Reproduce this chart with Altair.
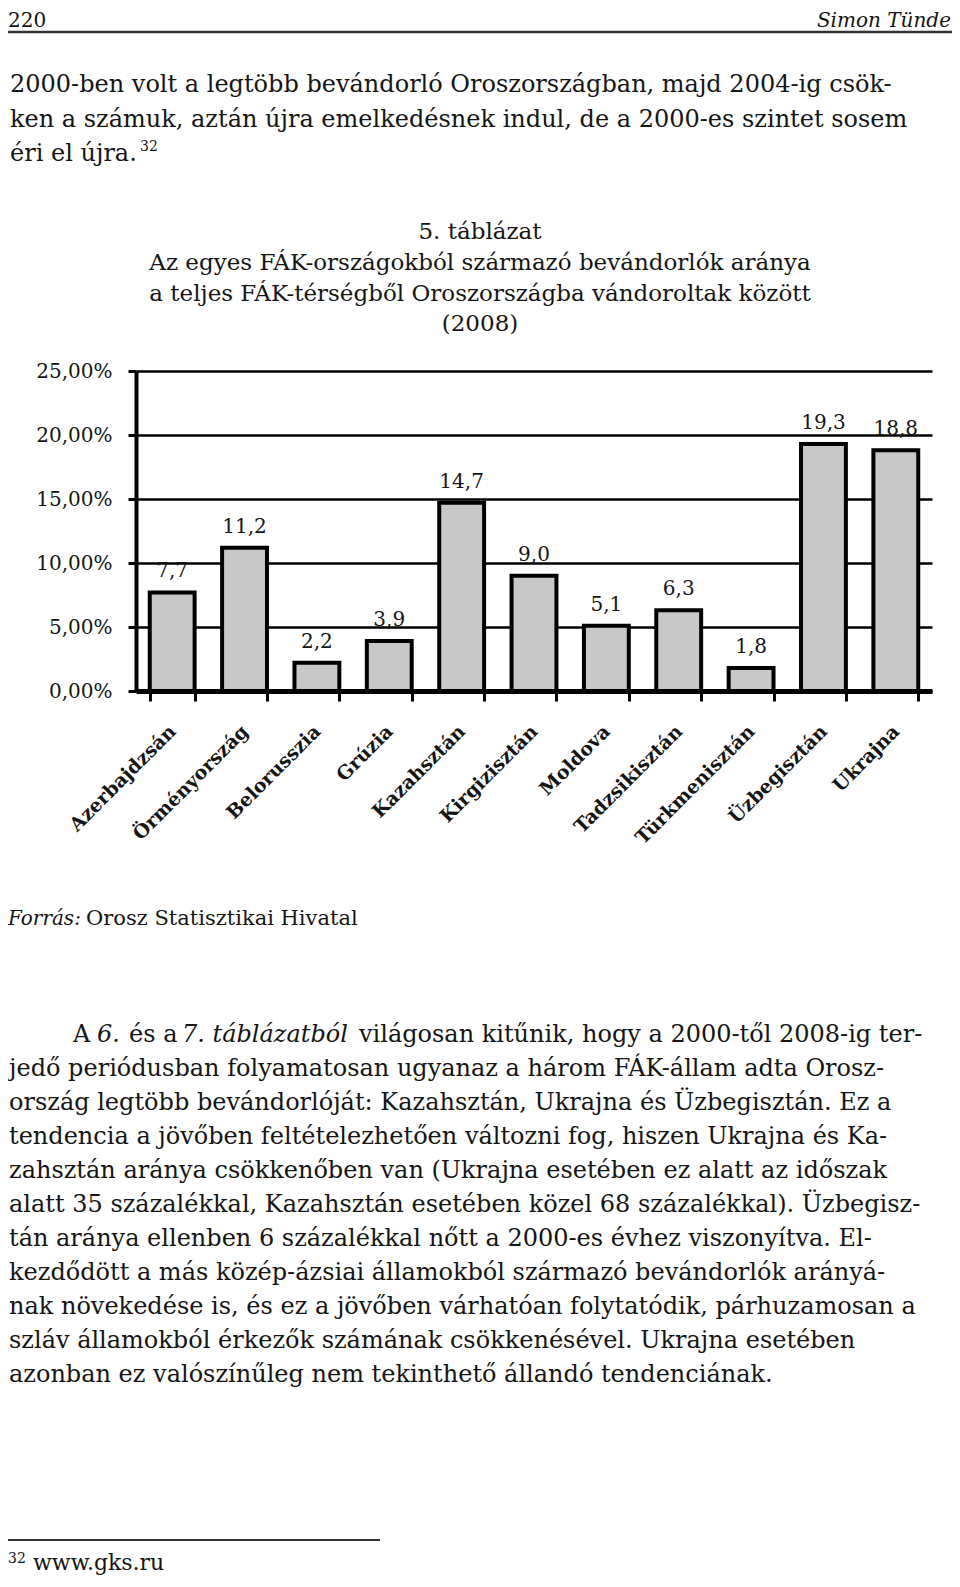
import altair as alt
import pandas as pd

# ---------------- data ----------------
countries = ["Azerbajdzsán", "Örményország", "Belorusszia", "Grúzia", "Kazahsztán",
             "Kirgizisztán", "Moldova", "Tadzsikisztán", "Türkmenisztán", "Üzbegisztán", "Ukrajna"]
shares = [7.7, 11.2, 2.2, 3.9, 14.7, 9.0, 5.1, 6.3, 1.8, 19.3, 18.8]
y_ticks = [0, 5, 10, 15, 20, 25]

header_left = "220"
header_right = "Simon Tünde"
intro_lines = [
    "2000-ben volt a legtöbb bevándorló Oroszországban, majd 2004-ig csök-",
    "ken a számuk, aztán újra emelkedésnek indul, de a 2000-es szintet sosem",
    "éri el újra.",
]
footnote_mark = "32"
title_lines = [
    "5. táblázat",
    "Az egyes FÁK-országokból származó bevándorlók aránya",
    "a teljes FÁK-térségből Oroszországba vándoroltak között",
    "(2008)",
]
source_label = "Forrás:"
source_text = "Orosz Statisztikai Hivatal"
first_line_segments = ["A", "6.", "és a", "7. táblázatból",
                       "világosan kitűnik, hogy a 2000-től 2008-ig ter-"]
first_line_italic = [False, True, False, True, False]
para_lines = [
    "jedő periódusban folyamatosan ugyanaz a három FÁK-állam adta Orosz-",
    "ország legtöbb bevándorlóját: Kazahsztán, Ukrajna és Üzbegisztán. Ez a",
    "tendencia a jövőben feltételezhetően változni fog, hiszen Ukrajna és Ka-",
    "zahsztán aránya csökkenőben van (Ukrajna esetében ez alatt az időszak",
    "alatt 35 százalékkal, Kazahsztán esetében közel 68 százalékkal). Üzbegisz-",
    "tán aránya ellenben 6 százalékkal nőtt a 2000-es évhez viszonyítva. El-",
    "kezdődött a más közép-ázsiai államokból származó bevándorlók arányá-",
    "nak növekedése is, és ez a jövőben várhatóan folytatódik, párhuzamosan a",
    "szláv államokból érkezők számának csökkenésével. Ukrajna esetében",
    "azonban ez valószínűleg nem tekinthető állandó tendenciának.",
]
footnote_text = "www.gks.ru"

# ---------------- layout ----------------
SERIF = "DejaVu Serif"
INK = "#151515"
PX0, PY0 = 136, 371          # plot origin on the page
W, H = 796, 320
BODY = 24
SVG_W, SVG_H = 944, 1571


def page_text(text, x, y, size=BODY, style="normal", align="left",
              weight="normal", font=SERIF):
    return alt.Chart(pd.DataFrame({"t": [text]})).mark_text(
        align=align, baseline="alphabetic", font=font, fontSize=size,
        fontStyle=style, fontWeight=weight, color=INK
    ).encode(text="t:N", x=alt.value(x - PX0), y=alt.value(y - PY0))


def page_rule(x1, x2, y, width=2):
    return alt.Chart(pd.DataFrame({"a": [0]})).mark_rule(
        color="#333", strokeWidth=width
    ).encode(x=alt.value(x1 - PX0), x2=alt.value(x2 - PX0), y=alt.value(y - PY0))


layers = []
# header
layers.append(page_text(header_left, 8, 27, size=20))
layers.append(page_text(header_right, 951, 27, size=20, style="italic", align="right"))
layers.append(page_rule(8, 952, 32, 2.5))

# intro paragraph
for i, line in enumerate(intro_lines):
    layers.append(page_text(line, 10, 92 + 34.5 * i))
layers.append(page_text(footnote_mark, 140, 92 + 34.5 * 2 - 10, size=14))

# title
for i, line in enumerate(title_lines):
    layers.append(page_text(line, 480, 239 + 30.8 * i, size=23, align="center"))

# source
layers.append(page_text(source_label, 8, 925, size=20, style="italic"))
layers.append(page_text(source_text, 86, 925, size=21))

# second paragraph
seg_x = [73, 97, 129, 182, 359]
for seg, it, sx in zip(first_line_segments, first_line_italic, seg_x):
    layers.append(page_text(seg, sx, 1042, style="italic" if it else "normal"))
for i, line in enumerate(para_lines):
    layers.append(page_text(line, 9, 1042 + 34 * (i + 1)))

# footnote
layers.append(page_rule(8, 380, 1540, 2))
layers.append(page_text(footnote_mark, 8, 1563, size=14))
layers.append(page_text(footnote_text, 33, 1570, size=22))

# ---------------- chart ----------------
df = pd.DataFrame({"country": countries, "share": shares})

x_enc = alt.X(
    "country:N", sort=countries,
    scale=alt.Scale(paddingInner=0.38, paddingOuter=0.19),
    axis=alt.Axis(title=None, labelAngle=-45, labelAlign="right", labelBaseline="middle",
                  labelFont=SERIF, labelFontSize=19, labelFontWeight="bold", labelColor=INK,
                  labelPadding=27, tickSize=10, tickWidth=3, tickColor="black",
                  tickBand="extent", domainColor="black", domainWidth=5, grid=False),
)
y_enc = alt.Y(
    "share:Q", scale=alt.Scale(domain=[0, 25], nice=False),
    axis=alt.Axis(title=None, values=y_ticks,
                  labelExpr="replace(format(datum.value, '.2f'), '.', ',') + '%'",
                  labelFont=SERIF, labelFontSize=20, labelColor=INK, labelPadding=16,
                  labelFlush=False, tickSize=8, tickWidth=3, tickColor="black",
                  domainColor="black", domainWidth=4, grid=True, gridColor="black",
                  gridWidth=2.5, gridOpacity=1),
)

base = alt.Chart(df)
bars = base.mark_bar(fill="#c8c8c8", stroke="black", strokeWidth=4).encode(x=x_enc, y=y_enc)
labels = base.mark_text(dy=-15, baseline="alphabetic", font=SERIF, fontSize=20, color=INK).encode(
    x=x_enc, y=y_enc, text="lbl:N"
).transform_calculate(lbl="replace(format(datum.share, '.1f'), '.', ',')")

chart = alt.layer(bars, labels, *layers).properties(
    width=W, height=H,
    padding={"left": PX0 - 8, "top": PY0 - 8, "right": SVG_W - (PX0 - 8) - W,
             "bottom": SVG_H - (PY0 - 8) - H},
    autosize=alt.AutoSizeParams(type="none"),
    background="white",
).configure_view(stroke=None)

chart.save("out.html", embed_options={"renderer": "svg", "actions": False})
